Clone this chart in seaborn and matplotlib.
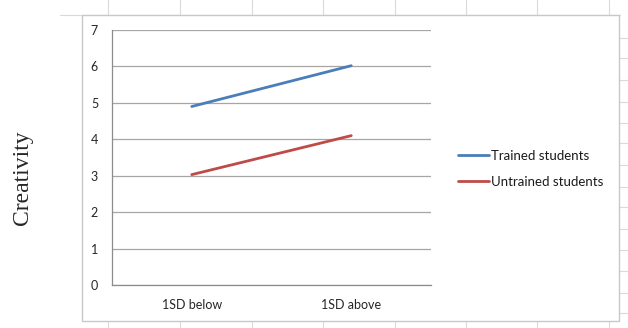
import matplotlib
matplotlib.use("Agg")
import matplotlib.pyplot as plt
from matplotlib.lines import Line2D
from matplotlib.patches import Rectangle
import seaborn as sns
import pandas as pd

# data
levels = ["1SD below", "1SD above"]
trained = [4.9, 6.02]
untrained = [3.03, 4.1]
groups = ["Trained students", "Untrained students"]
y_ticks = [0, 1, 2, 3, 4, 5, 6, 7]

df = pd.DataFrame({
    "Level": levels * 2,
    "Creativity": trained + untrained,
    "Group": [groups[0]] * 2 + [groups[1]] * 2,
})

sns.set_style("white")
plt.rcParams["font.family"] = ["Lato", "DejaVu Sans"]

W, H = 628, 328
fig = plt.figure(figsize=(W / 100, H / 100), dpi=100)


def fx(px):
    return px / W


def fy(py):
    return 1 - py / H


# faint spreadsheet cell lines behind the chart
cell = "#dadada"
for x in [108, 180, 252, 323, 395, 466, 537, 609]:
    fig.add_artist(Line2D([fx(x)] * 2, [0, 1], color=cell, lw=0.8, zorder=-3))
for y in [38, 58, 80, 102, 123, 143, 165, 187, 207, 229, 250, 271, 293, 313]:
    fig.add_artist(Line2D([fx(619), 1], [fy(y)] * 2, color=cell, lw=0.8, zorder=-3))
fig.add_artist(Line2D([fx(60), fx(620)], [fy(15)] * 2, color=cell, lw=0.8, zorder=-3))
# white chart box
fig.add_artist(Rectangle((fx(82), fy(321)), fx(619) - fx(82), fy(15) - fy(321),
                         facecolor="white", edgecolor="#c8c8c8", lw=1.0, zorder=-2))

ax = fig.add_axes([fx(112), fy(285), fx(431) - fx(112), fy(30) - fy(285)])
ax.patch.set_alpha(0)

palette = {groups[0]: "#4a7ebb", groups[1]: "#be4b48"}
sns.lineplot(data=df, x="Level", y="Creativity", hue="Group", palette=palette,
             linewidth=2.0, ax=ax, sort=False)

ax.set_xlim(-0.5, 1.5)
ax.set_ylim(0, 7)
ax.set_yticks(y_ticks)
ax.set_xticks([0, 1])
ax.set_xticks([-0.5, 0.5, 1.5], minor=True)
ax.tick_params(axis="x", which="major", length=0, pad=10, labelsize=9, colors="#262626")
ax.tick_params(axis="x", which="minor", length=4, width=0.8, color="#8c8c8c", direction="out")
ax.tick_params(axis="y", length=4, width=0.8, color="#8c8c8c", direction="out",
               labelsize=9, labelcolor="#262626", pad=6)
ax.yaxis.grid(True, color="#a6a6a6", lw=0.9)
ax.set_axisbelow(True)
for s in ["top", "right"]:
    ax.spines[s].set_visible(False)
for s in ["left", "bottom"]:
    ax.spines[s].set_color("#8c8c8c")
    ax.spines[s].set_linewidth(0.9)
ax.set_xlabel("")
ax.set_ylabel("")

handles, labels = ax.get_legend_handles_labels()
ax.get_legend().remove()
fig.legend(handles, labels, loc="center left", bbox_to_anchor=(fx(447), fy(169)),
           frameon=False, fontsize=9.5, handlelength=2.35, handletextpad=0.2,
           labelspacing=1.05, labelcolor="#1a1a1a", borderpad=0.3)

fig.text(fx(22), fy(178), "Creativity", rotation=90, ha="center", va="center",
         fontsize=17, family=["Liberation Serif", "DejaVu Serif"])

fig.savefig("out.png", dpi=100)
